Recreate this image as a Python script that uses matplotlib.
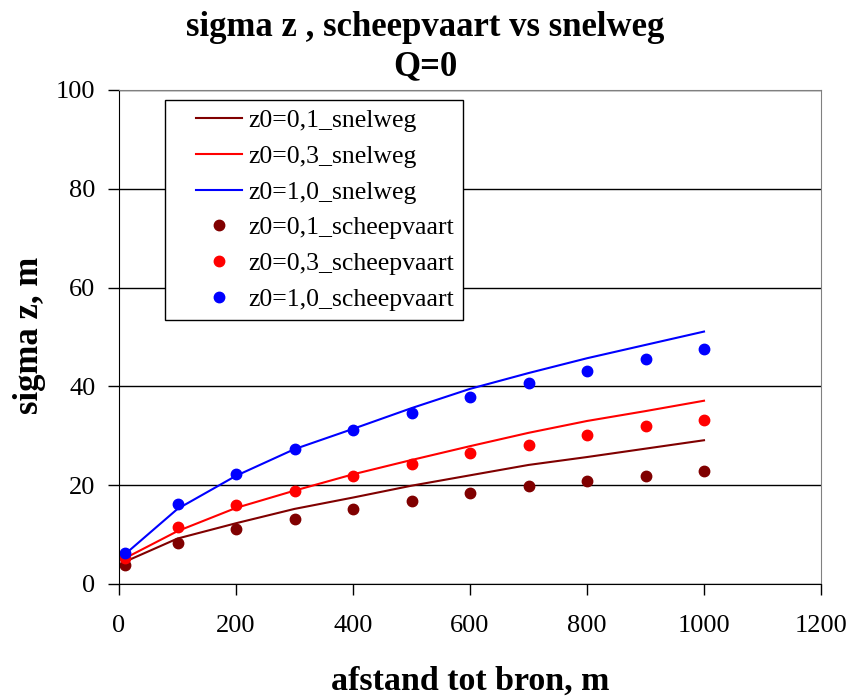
import matplotlib
matplotlib.use("Agg")
import matplotlib.pyplot as plt
from matplotlib.legend_handler import HandlerLine2D

x_line = [10, 100, 200, 300, 400, 500, 600, 700, 800, 900, 1000]
snel_01 = [4.5, 9.2, 12.3, 15.2, 17.5, 19.9, 22.0, 24.1, 25.7, 27.4, 29.1]
snel_03 = [5.2, 10.7, 15.4, 18.9, 22.2, 25.1, 27.9, 30.6, 33.0, 35.0, 37.1]
snel_10 = [6.0, 15.2, 21.9, 27.3, 31.4, 35.6, 39.5, 42.7, 45.7, 48.4, 51.1]

x_pts = [10, 100, 200, 300, 400, 500, 600, 700, 800, 900, 1000]
schip_01 = [3.8, 8.2, 11.2, 13.2, 15.2, 16.9, 18.5, 19.8, 20.8, 21.8, 22.9]
schip_03 = [5.3, 11.5, 15.9, 18.9, 21.9, 24.3, 26.5, 28.2, 30.2, 31.9, 33.2]
schip_10 = [6.2, 16.2, 22.2, 27.3, 31.2, 34.6, 37.9, 40.6, 43.2, 45.6, 47.6]

labels = ["z0=0,1_snelweg", "z0=0,3_snelweg", "z0=1,0_snelweg",
          "z0=0,1_scheepvaart", "z0=0,3_scheepvaart", "z0=1,0_scheepvaart"]
colors = ["#800000", "#ff0000", "#0000ff"]

plt.rcParams['font.family'] = ['Liberation Serif', 'DejaVu Serif']

fig = plt.figure(figsize=(8.5, 6.99), dpi=100)
ax = fig.add_axes([119/850, 1-584/699, (821-119)/850, (584-90)/699])

for y, c, l in zip([snel_01, snel_03, snel_10], colors, labels[:3]):
    ax.plot(x_line, y, color=c, lw=1.5, label=l)
for y, c, l in zip([schip_01, schip_03, schip_10], colors, labels[3:]):
    ax.plot(x_pts, y, 'o', color=c, ms=7.5, ls='none', label=l)

ax.set_xlim(0, 1200)
ax.set_ylim(0, 100)
ax.set_xticks(range(0, 1201, 200))
ax.set_yticks(range(0, 101, 20))
ax.yaxis.grid(True, color='black', lw=1)
ax.set_axisbelow(True)
ax.tick_params(labelsize=19, length=8, width=1, direction='out')
ax.tick_params(axis='x', pad=14)
ax.tick_params(axis='y', pad=9)
for s in ['top', 'right']:
    ax.spines[s].set_color('#808080')
for s in ['left', 'bottom']:
    ax.spines[s].set_color('black')

ax.set_xlabel("afstand tot bron, m", fontsize=24.5, fontweight='bold', va='center')
ax.xaxis.set_label_coords(0.5, (584-681)/494)
ax.set_ylabel("sigma z, m", fontsize=25, fontweight='bold', va='center')
ax.yaxis.set_label_coords((30-119)/702, (584-335)/494)
fig.text(0.5, 1-28/699, "sigma z , scheepvaart vs snelweg", ha='center', va='center',
         fontsize=25, fontweight='bold')
fig.text(0.5, 1-67/699, "Q=0", ha='center', va='center', fontsize=25, fontweight='bold')

handles, labs = ax.get_legend_handles_labels()
hmap = {h: HandlerLine2D(xpad=0.86) for h in handles}
leg = ax.legend(handles, labs, loc='upper left',
                bbox_to_anchor=((165-119)/702, 1-(100-90)/494),
                fontsize=18.5, frameon=True, fancybox=False, edgecolor='black',
                borderpad=0.35, labelspacing=0.5, handlelength=2.65, handletextpad=0.25,
                borderaxespad=0, handler_map=hmap)
leg.get_frame().set_linewidth(1)
leg.get_frame().set_alpha(1)

fig.savefig("out.png", dpi=100)
